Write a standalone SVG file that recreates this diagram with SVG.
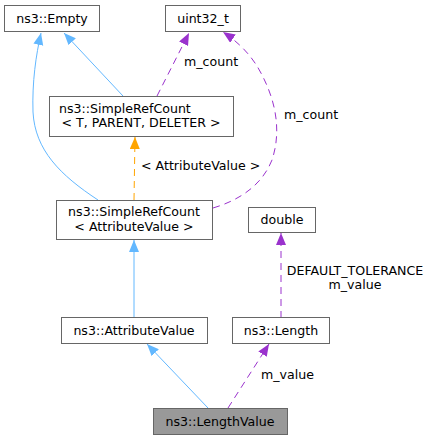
<svg xmlns="http://www.w3.org/2000/svg" width="432" height="440" viewBox="0 0 432 440">
<style>
.n rect{fill:#fff;stroke:#666;stroke-width:1}
.n.cur rect{fill:#999}
text{font-family:"DejaVu Sans","Liberation Sans",sans-serif;font-size:12.6px;fill:#000}
.c{text-anchor:middle}
.e{fill:none;stroke-width:1}
.blue{stroke:#63b8ff}
.purple{stroke:#9a32cd;stroke-dasharray:7,5}
.orange{stroke:#ffa500;stroke-dasharray:7,5}
</style>
<defs>
<marker id="ab" markerUnits="userSpaceOnUse" markerWidth="13" markerHeight="11" refX="12" refY="5" orient="auto"><path d="M0,0 L12,5 L0,10 z" fill="#63b8ff"/></marker>
<marker id="ap" markerUnits="userSpaceOnUse" markerWidth="13" markerHeight="11" refX="12" refY="5" orient="auto"><path d="M0,0 L12,5 L0,10 z" fill="#9a32cd"/></marker>
<marker id="ao" markerUnits="userSpaceOnUse" markerWidth="13" markerHeight="11" refX="12" refY="5" orient="auto"><path d="M0,0 L12,5 L0,10 z" fill="#ffa500"/></marker>
</defs>
<g id="edges">
<path class="e blue" d="M123,96 L64,33" marker-end="url(#ab)"/>
<path class="e blue" d="M98,200 C60,175 35,150 33,112 C32,82 36,55 41,33" marker-end="url(#ab)"/>
<path class="e purple" d="M157,96 L189,33" marker-end="url(#ap)"/>
<path class="e purple" d="M213,208 C240,200 262,185 272,160 C282,130 275,100 262,75 C252,55 238,42 223,32" marker-end="url(#ap)"/>
<path class="e orange" d="M134,200 L135,137" marker-end="url(#ao)"/>
<path class="e blue" d="M134,318 L134,240" marker-end="url(#ab)"/>
<path class="e purple" d="M281,318 L281,233" marker-end="url(#ap)"/>
<path class="e blue" d="M208,408 L147,344" marker-end="url(#ab)"/>
<path class="e purple" d="M228,408 L269,344" marker-end="url(#ap)"/>
<text x="184" y="66">m_count</text>
<text x="284" y="119">m_count</text>
<text x="141" y="170">&lt; AttributeValue &gt;</text>
<text x="355" y="275" class="c">DEFAULT_TOLERANCE</text>
<text x="355" y="289" class="c">m_value</text>
<text x="261" y="379">m_value</text>
</g>
<g id="node-empty" class="n"><rect x="4.5" y="5.5" width="95" height="26"/><text x="52" y="22.5" class="c">ns3::Empty</text></g>
<g id="node-uint32" class="n"><rect x="165.5" y="5.5" width="75" height="26"/><text x="203" y="22.5" class="c">uint32_t</text></g>
<g id="node-srctpd" class="n"><rect x="49.5" y="96.5" width="184" height="40"/><text x="59" y="112.5">ns3::SimpleRefCount</text><text x="141" y="127" class="c">&lt; T, PARENT, DELETER &gt;</text></g>
<g id="node-srcav" class="n"><rect x="56.5" y="200.5" width="156" height="39"/><text x="134" y="216" class="c">ns3::SimpleRefCount</text><text x="134" y="231" class="c">&lt; AttributeValue &gt;</text></g>
<g id="node-double" class="n"><rect x="248.5" y="207.5" width="67" height="25"/><text x="282" y="224" class="c">double</text></g>
<g id="node-av" class="n"><rect x="61.5" y="317.5" width="146" height="26"/><text x="134" y="334.5" class="c">ns3::AttributeValue</text></g>
<g id="node-length" class="n"><rect x="232.5" y="317.5" width="97" height="26"/><text x="281" y="334.5" class="c">ns3::Length</text></g>
<g id="node-lv" class="n cur"><rect x="153.5" y="408.5" width="134" height="26"/><text x="220" y="425.5" class="c">ns3::LengthValue</text></g>
</svg>
